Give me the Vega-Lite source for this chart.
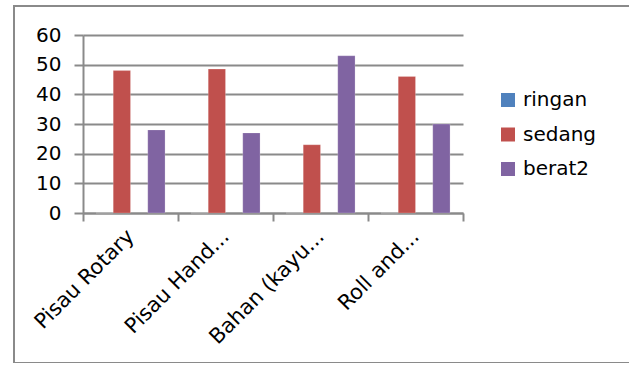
{
  "$schema": "https://vega.github.io/schema/vega-lite/v6.json",
  "autosize": "none",
  "width": 620,
  "height": 357,
  "padding": {"left": 14, "top": 6, "right": 0, "bottom": 0},
  "background": "white",
  "config": {
    "view": {"stroke": "#8a8a8a", "strokeWidth": 2},
    "font": "DejaVu Sans"
  },
  "data": {
    "values": [
      {"alat": "Pisau Rotary", "kategori": "ringan", "nilai": 0},
      {"alat": "Pisau Rotary", "kategori": "sedang", "nilai": 48},
      {"alat": "Pisau Rotary", "kategori": "berat2", "nilai": 28},
      {"alat": "Pisau Hand...", "kategori": "ringan", "nilai": 0},
      {"alat": "Pisau Hand...", "kategori": "sedang", "nilai": 48.5},
      {"alat": "Pisau Hand...", "kategori": "berat2", "nilai": 27},
      {"alat": "Bahan (kayu...", "kategori": "ringan", "nilai": 0},
      {"alat": "Bahan (kayu...", "kategori": "sedang", "nilai": 23},
      {"alat": "Bahan (kayu...", "kategori": "berat2", "nilai": 53},
      {"alat": "Roll and...", "kategori": "ringan", "nilai": 0},
      {"alat": "Roll and...", "kategori": "sedang", "nilai": 46},
      {"alat": "Roll and...", "kategori": "berat2", "nilai": 30}
    ]
  },
  "mark": {"type": "bar", "stroke": "#ffffff", "strokeOpacity": 0.4, "strokeWidth": 0.5},
  "encoding": {
    "x": {
      "field": "alat",
      "type": "nominal",
      "sort": null,
      "title": null,
      "scale": {"range": [69, 449], "paddingInner": 0, "paddingOuter": 0},
      "axis": {
        "offset": -150,
        "labelAngle": -45,
        "labelAlign": "right",
        "labelBaseline": "middle",
        "labelFontSize": 21,
        "labelColor": "#000000",
        "labelPadding": 12,
        "labelLimit": 300,
        "tickBand": "extent",
        "tickSize": 8,
        "tickWidth": 2,
        "tickColor": "#8a8a8a",
        "domainColor": "#8a8a8a",
        "domainWidth": 2,
        "grid": false
      }
    },
    "xOffset": {
      "field": "kategori",
      "type": "nominal",
      "scale": {"domain": ["ringan", "sedang", "kosong", "berat2"], "paddingInner": 0, "paddingOuter": 0.75}
    },
    "y": {
      "field": "nilai",
      "type": "quantitative",
      "title": null,
      "scale": {"domain": [0, 60], "nice": false, "range": [207, 29]},
      "axis": {
        "offset": -69,
        "values": [0, 10, 20, 30, 40, 50, 60],
        "labelFontSize": 20,
        "labelColor": "#000000",
        "labelPadding": 13,
        "tickSize": 9,
        "tickWidth": 2,
        "tickColor": "#8a8a8a",
        "domainColor": "#8a8a8a",
        "domainWidth": 2,
        "grid": true,
        "gridColor": "#8a8a8a",
        "gridWidth": 2
      }
    },
    "color": {
      "field": "kategori",
      "type": "nominal",
      "title": null,
      "scale": {"domain": ["ringan", "sedang", "berat2"], "range": ["#4F81BD", "#C0504D", "#8064A2"]},
      "legend": {
        "orient": "none",
        "legendX": 484,
        "legendY": 84,
        "symbolType": "square",
        "symbolSize": 196,
        "symbolStrokeWidth": 0,
        "labelFontSize": 20,
        "labelColor": "#000000",
        "labelOffset": 5,
        "rowPadding": 14.5
      }
    }
  }
}
